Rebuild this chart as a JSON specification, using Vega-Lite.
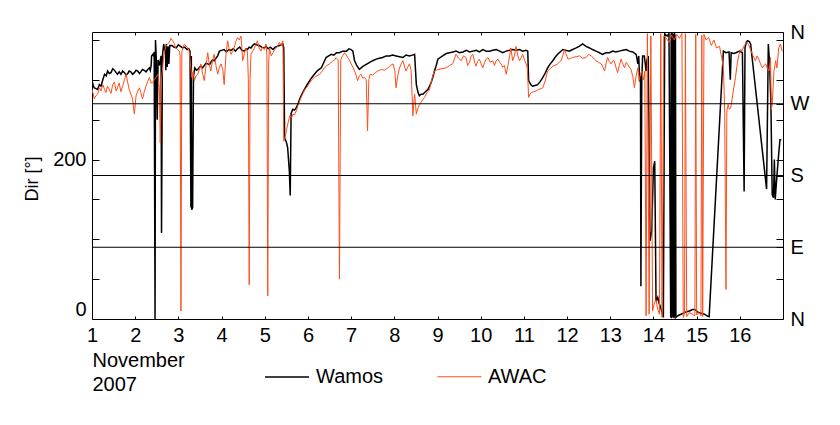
{
"$schema": "https://vega.github.io/schema/vega-lite/v6.json",
"width": 691,
"height": 287,
"autosize": "none",
"padding": {"left": 92, "top": 32, "right": 57, "bottom": 106},
"background": "white",
"config": {
  "font": "Liberation Sans",
  "view": {"stroke": "black", "strokeWidth": 1},
  "axis": {"labelFont": "Liberation Sans", "labelFontSize": 20, "labelColor": "black", "tickColor": "black", "tickWidth": 1, "domain": false, "grid": false, "titleFont": "Liberation Sans", "titleColor": "black", "titleFontWeight": "normal"},
  "legend": {"labelFont": "Liberation Sans", "labelColor": "black"}
},
"layer": [
  {
    "data": {"values": [
{"day":1.00,"dir":299,"series":"Wamos"},{"day":1.03,"dir":293,"series":"Wamos"},{"day":1.05,"dir":290,"series":"Wamos"},{"day":1.09,"dir":289,"series":"Wamos"},{"day":1.13,"dir":288,"series":"Wamos"},{"day":1.17,"dir":294,"series":"Wamos"},{"day":1.21,"dir":292,"series":"Wamos"},{"day":1.25,"dir":300,"series":"Wamos"},{"day":1.29,"dir":307,"series":"Wamos"},{"day":1.33,"dir":305,"series":"Wamos"},{"day":1.36,"dir":311,"series":"Wamos"},{"day":1.40,"dir":308,"series":"Wamos"},{"day":1.44,"dir":309,"series":"Wamos"},{"day":1.48,"dir":314,"series":"Wamos"},{"day":1.52,"dir":312,"series":"Wamos"},{"day":1.56,"dir":309,"series":"Wamos"},{"day":1.59,"dir":307,"series":"Wamos"},{"day":1.63,"dir":310,"series":"Wamos"},{"day":1.67,"dir":307,"series":"Wamos"},{"day":1.71,"dir":311,"series":"Wamos"},{"day":1.75,"dir":309,"series":"Wamos"},{"day":1.79,"dir":306,"series":"Wamos"},{"day":1.83,"dir":308,"series":"Wamos"},{"day":1.86,"dir":311,"series":"Wamos"},{"day":1.90,"dir":310,"series":"Wamos"},{"day":1.94,"dir":307,"series":"Wamos"},{"day":1.98,"dir":309,"series":"Wamos"},{"day":2.02,"dir":312,"series":"Wamos"},{"day":2.06,"dir":311,"series":"Wamos"},{"day":2.10,"dir":308,"series":"Wamos"},{"day":2.13,"dir":310,"series":"Wamos"},{"day":2.17,"dir":313,"series":"Wamos"},{"day":2.21,"dir":312,"series":"Wamos"},{"day":2.25,"dir":310,"series":"Wamos"},{"day":2.29,"dir":313,"series":"Wamos"},{"day":2.33,"dir":315,"series":"Wamos"},{"day":2.35,"dir":312,"series":"Wamos"},{"day":2.37,"dir":318,"series":"Wamos"},{"day":2.38,"dir":330,"series":"Wamos"},{"day":2.41,"dir":332,"series":"Wamos"},{"day":2.43,"dir":330,"series":"Wamos"},{"day":2.44,"dir":335,"series":"Wamos"},{"day":2.46,"dir":0,"series":"Wamos"},{"day":2.47,"dir":350,"series":"Wamos"},{"day":2.49,"dir":325,"series":"Wamos"},{"day":2.51,"dir":250,"series":"Wamos"},{"day":2.53,"dir":325,"series":"Wamos"},{"day":2.56,"dir":318,"series":"Wamos"},{"day":2.60,"dir":330,"series":"Wamos"},{"day":2.61,"dir":108,"series":"Wamos"},{"day":2.63,"dir":330,"series":"Wamos"},{"day":2.66,"dir":345,"series":"Wamos"},{"day":2.68,"dir":338,"series":"Wamos"},{"day":2.70,"dir":340,"series":"Wamos"},{"day":2.71,"dir":312,"series":"Wamos"},{"day":2.72,"dir":345,"series":"Wamos"},{"day":2.74,"dir":316,"series":"Wamos"},{"day":2.76,"dir":342,"series":"Wamos"},{"day":2.78,"dir":320,"series":"Wamos"},{"day":2.80,"dir":343,"series":"Wamos"},{"day":2.85,"dir":343,"series":"Wamos"},{"day":2.90,"dir":341,"series":"Wamos"},{"day":2.95,"dir":340,"series":"Wamos"},{"day":3.00,"dir":344,"series":"Wamos"},{"day":3.05,"dir":342,"series":"Wamos"},{"day":3.10,"dir":340,"series":"Wamos"},{"day":3.15,"dir":341,"series":"Wamos"},{"day":3.20,"dir":338,"series":"Wamos"},{"day":3.24,"dir":339,"series":"Wamos"},{"day":3.27,"dir":336,"series":"Wamos"},{"day":3.29,"dir":140,"series":"Wamos"},{"day":3.30,"dir":330,"series":"Wamos"},{"day":3.31,"dir":137,"series":"Wamos"},{"day":3.33,"dir":140,"series":"Wamos"},{"day":3.35,"dir":305,"series":"Wamos"},{"day":3.38,"dir":315,"series":"Wamos"},{"day":3.42,"dir":312,"series":"Wamos"},{"day":3.45,"dir":313,"series":"Wamos"},{"day":3.49,"dir":316,"series":"Wamos"},{"day":3.52,"dir":317,"series":"Wamos"},{"day":3.56,"dir":315,"series":"Wamos"},{"day":3.60,"dir":318,"series":"Wamos"},{"day":3.64,"dir":321,"series":"Wamos"},{"day":3.68,"dir":320,"series":"Wamos"},{"day":3.72,"dir":319,"series":"Wamos"},{"day":3.75,"dir":322,"series":"Wamos"},{"day":3.79,"dir":325,"series":"Wamos"},{"day":3.83,"dir":324,"series":"Wamos"},{"day":3.87,"dir":327,"series":"Wamos"},{"day":3.91,"dir":330,"series":"Wamos"},{"day":3.95,"dir":336,"series":"Wamos"},{"day":4.00,"dir":337,"series":"Wamos"},{"day":4.06,"dir":338,"series":"Wamos"},{"day":4.11,"dir":335,"series":"Wamos"},{"day":4.17,"dir":338,"series":"Wamos"},{"day":4.22,"dir":337,"series":"Wamos"},{"day":4.27,"dir":339,"series":"Wamos"},{"day":4.32,"dir":336,"series":"Wamos"},{"day":4.37,"dir":339,"series":"Wamos"},{"day":4.42,"dir":341,"series":"Wamos"},{"day":4.47,"dir":337,"series":"Wamos"},{"day":4.53,"dir":336,"series":"Wamos"},{"day":4.57,"dir":339,"series":"Wamos"},{"day":4.60,"dir":338,"series":"Wamos"},{"day":4.64,"dir":341,"series":"Wamos"},{"day":4.68,"dir":340,"series":"Wamos"},{"day":4.72,"dir":343,"series":"Wamos"},{"day":4.76,"dir":345,"series":"Wamos"},{"day":4.81,"dir":344,"series":"Wamos"},{"day":4.87,"dir":343,"series":"Wamos"},{"day":4.93,"dir":341,"series":"Wamos"},{"day":4.99,"dir":340,"series":"Wamos"},{"day":5.03,"dir":342,"series":"Wamos"},{"day":5.08,"dir":339,"series":"Wamos"},{"day":5.13,"dir":341,"series":"Wamos"},{"day":5.19,"dir":338,"series":"Wamos"},{"day":5.24,"dir":341,"series":"Wamos"},{"day":5.29,"dir":342,"series":"Wamos"},{"day":5.34,"dir":343,"series":"Wamos"},{"day":5.38,"dir":344,"series":"Wamos"},{"day":5.42,"dir":345,"series":"Wamos"},{"day":5.44,"dir":340,"series":"Wamos"},{"day":5.46,"dir":227,"series":"Wamos"},{"day":5.50,"dir":222,"series":"Wamos"},{"day":5.53,"dir":215,"series":"Wamos"},{"day":5.57,"dir":185,"series":"Wamos"},{"day":5.59,"dir":155,"series":"Wamos"},{"day":5.61,"dir":258,"series":"Wamos"},{"day":5.65,"dir":263,"series":"Wamos"},{"day":5.69,"dir":262,"series":"Wamos"},{"day":5.73,"dir":265,"series":"Wamos"},{"day":5.77,"dir":270,"series":"Wamos"},{"day":5.81,"dir":276,"series":"Wamos"},{"day":5.86,"dir":282,"series":"Wamos"},{"day":5.92,"dir":288,"series":"Wamos"},{"day":5.98,"dir":294,"series":"Wamos"},{"day":6.04,"dir":299,"series":"Wamos"},{"day":6.09,"dir":303,"series":"Wamos"},{"day":6.15,"dir":307,"series":"Wamos"},{"day":6.21,"dir":311,"series":"Wamos"},{"day":6.26,"dir":313,"series":"Wamos"},{"day":6.31,"dir":315,"series":"Wamos"},{"day":6.37,"dir":322,"series":"Wamos"},{"day":6.42,"dir":328,"series":"Wamos"},{"day":6.48,"dir":330,"series":"Wamos"},{"day":6.54,"dir":332,"series":"Wamos"},{"day":6.60,"dir":331,"series":"Wamos"},{"day":6.66,"dir":334,"series":"Wamos"},{"day":6.73,"dir":334,"series":"Wamos"},{"day":6.80,"dir":336,"series":"Wamos"},{"day":6.89,"dir":336,"series":"Wamos"},{"day":6.95,"dir":339,"series":"Wamos"},{"day":7.00,"dir":338,"series":"Wamos"},{"day":7.04,"dir":336,"series":"Wamos"},{"day":7.08,"dir":324,"series":"Wamos"},{"day":7.13,"dir":318,"series":"Wamos"},{"day":7.19,"dir":313,"series":"Wamos"},{"day":7.25,"dir":316,"series":"Wamos"},{"day":7.31,"dir":318,"series":"Wamos"},{"day":7.37,"dir":320,"series":"Wamos"},{"day":7.43,"dir":322,"series":"Wamos"},{"day":7.50,"dir":324,"series":"Wamos"},{"day":7.58,"dir":326,"series":"Wamos"},{"day":7.65,"dir":327,"series":"Wamos"},{"day":7.73,"dir":328,"series":"Wamos"},{"day":7.81,"dir":330,"series":"Wamos"},{"day":7.89,"dir":330,"series":"Wamos"},{"day":7.96,"dir":331,"series":"Wamos"},{"day":8.04,"dir":330,"series":"Wamos"},{"day":8.12,"dir":329,"series":"Wamos"},{"day":8.20,"dir":328,"series":"Wamos"},{"day":8.27,"dir":331,"series":"Wamos"},{"day":8.35,"dir":330,"series":"Wamos"},{"day":8.42,"dir":331,"series":"Wamos"},{"day":8.47,"dir":332,"series":"Wamos"},{"day":8.51,"dir":294,"series":"Wamos"},{"day":8.55,"dir":284,"series":"Wamos"},{"day":8.58,"dir":280,"series":"Wamos"},{"day":8.62,"dir":282,"series":"Wamos"},{"day":8.66,"dir":282,"series":"Wamos"},{"day":8.72,"dir":285,"series":"Wamos"},{"day":8.78,"dir":288,"series":"Wamos"},{"day":8.85,"dir":296,"series":"Wamos"},{"day":8.89,"dir":303,"series":"Wamos"},{"day":8.93,"dir":311,"series":"Wamos"},{"day":8.97,"dir":318,"series":"Wamos"},{"day":9.01,"dir":326,"series":"Wamos"},{"day":9.06,"dir":328,"series":"Wamos"},{"day":9.12,"dir":330,"series":"Wamos"},{"day":9.20,"dir":333,"series":"Wamos"},{"day":9.28,"dir":334,"series":"Wamos"},{"day":9.36,"dir":335,"series":"Wamos"},{"day":9.43,"dir":336,"series":"Wamos"},{"day":9.51,"dir":334,"series":"Wamos"},{"day":9.59,"dir":335,"series":"Wamos"},{"day":9.67,"dir":337,"series":"Wamos"},{"day":9.74,"dir":335,"series":"Wamos"},{"day":9.82,"dir":336,"series":"Wamos"},{"day":9.90,"dir":337,"series":"Wamos"},{"day":9.97,"dir":335,"series":"Wamos"},{"day":10.05,"dir":338,"series":"Wamos"},{"day":10.13,"dir":336,"series":"Wamos"},{"day":10.20,"dir":336,"series":"Wamos"},{"day":10.28,"dir":337,"series":"Wamos"},{"day":10.36,"dir":338,"series":"Wamos"},{"day":10.44,"dir":336,"series":"Wamos"},{"day":10.51,"dir":334,"series":"Wamos"},{"day":10.59,"dir":336,"series":"Wamos"},{"day":10.67,"dir":337,"series":"Wamos"},{"day":10.74,"dir":338,"series":"Wamos"},{"day":10.82,"dir":337,"series":"Wamos"},{"day":10.90,"dir":338,"series":"Wamos"},{"day":10.97,"dir":336,"series":"Wamos"},{"day":11.05,"dir":337,"series":"Wamos"},{"day":11.09,"dir":336,"series":"Wamos"},{"day":11.11,"dir":299,"series":"Wamos"},{"day":11.16,"dir":294,"series":"Wamos"},{"day":11.20,"dir":292,"series":"Wamos"},{"day":11.26,"dir":293,"series":"Wamos"},{"day":11.32,"dir":294,"series":"Wamos"},{"day":11.38,"dir":298,"series":"Wamos"},{"day":11.44,"dir":303,"series":"Wamos"},{"day":11.50,"dir":309,"series":"Wamos"},{"day":11.55,"dir":315,"series":"Wamos"},{"day":11.61,"dir":320,"series":"Wamos"},{"day":11.67,"dir":324,"series":"Wamos"},{"day":11.72,"dir":328,"series":"Wamos"},{"day":11.78,"dir":332,"series":"Wamos"},{"day":11.84,"dir":335,"series":"Wamos"},{"day":11.90,"dir":338,"series":"Wamos"},{"day":11.97,"dir":337,"series":"Wamos"},{"day":12.05,"dir":336,"series":"Wamos"},{"day":12.13,"dir":338,"series":"Wamos"},{"day":12.21,"dir":340,"series":"Wamos"},{"day":12.28,"dir":342,"series":"Wamos"},{"day":12.36,"dir":345,"series":"Wamos"},{"day":12.44,"dir":342,"series":"Wamos"},{"day":12.52,"dir":340,"series":"Wamos"},{"day":12.59,"dir":338,"series":"Wamos"},{"day":12.67,"dir":336,"series":"Wamos"},{"day":12.75,"dir":334,"series":"Wamos"},{"day":12.82,"dir":332,"series":"Wamos"},{"day":12.90,"dir":334,"series":"Wamos"},{"day":12.98,"dir":334,"series":"Wamos"},{"day":13.06,"dir":336,"series":"Wamos"},{"day":13.13,"dir":335,"series":"Wamos"},{"day":13.21,"dir":336,"series":"Wamos"},{"day":13.29,"dir":337,"series":"Wamos"},{"day":13.37,"dir":338,"series":"Wamos"},{"day":13.44,"dir":336,"series":"Wamos"},{"day":13.52,"dir":335,"series":"Wamos"},{"day":13.60,"dir":332,"series":"Wamos"},{"day":13.64,"dir":320,"series":"Wamos"},{"day":13.66,"dir":330,"series":"Wamos"},{"day":13.68,"dir":298,"series":"Wamos"},{"day":13.70,"dir":305,"series":"Wamos"},{"day":13.71,"dir":41,"series":"Wamos"},{"day":13.73,"dir":300,"series":"Wamos"},{"day":13.75,"dir":330,"series":"Wamos"},{"day":13.79,"dir":330,"series":"Wamos"},{"day":13.83,"dir":311,"series":"Wamos"},{"day":13.85,"dir":325,"series":"Wamos"},{"day":13.88,"dir":330,"series":"Wamos"},{"day":13.92,"dir":98,"series":"Wamos"},{"day":13.96,"dir":110,"series":"Wamos"},{"day":14.00,"dir":190,"series":"Wamos"},{"day":14.03,"dir":198,"series":"Wamos"},{"day":14.06,"dir":22,"series":"Wamos"},{"day":14.10,"dir":27,"series":"Wamos"},{"day":14.13,"dir":20,"series":"Wamos"},{"day":14.17,"dir":14,"series":"Wamos"},{"day":14.21,"dir":6,"series":"Wamos"},{"day":14.23,"dir":2,"series":"Wamos"},{"day":14.26,"dir":358,"series":"Wamos"},{"day":14.29,"dir":356,"series":"Wamos"},{"day":14.32,"dir":355,"series":"Wamos"},{"day":14.36,"dir":358,"series":"Wamos"},{"day":14.40,"dir":2,"series":"Wamos"},{"day":14.41,"dir":358,"series":"Wamos"},{"day":14.42,"dir":1,"series":"Wamos"},{"day":14.43,"dir":359,"series":"Wamos"},{"day":14.44,"dir":3,"series":"Wamos"},{"day":14.45,"dir":357,"series":"Wamos"},{"day":14.46,"dir":2,"series":"Wamos"},{"day":14.47,"dir":358,"series":"Wamos"},{"day":14.48,"dir":1,"series":"Wamos"},{"day":14.49,"dir":359,"series":"Wamos"},{"day":14.50,"dir":4,"series":"Wamos"},{"day":14.51,"dir":356,"series":"Wamos"},{"day":14.52,"dir":2,"series":"Wamos"},{"day":14.56,"dir":4,"series":"Wamos"},{"day":14.60,"dir":5,"series":"Wamos"},{"day":14.64,"dir":6,"series":"Wamos"},{"day":14.68,"dir":7,"series":"Wamos"},{"day":14.71,"dir":8,"series":"Wamos"},{"day":14.77,"dir":9,"series":"Wamos"},{"day":14.83,"dir":10,"series":"Wamos"},{"day":14.87,"dir":11,"series":"Wamos"},{"day":14.91,"dir":12,"series":"Wamos"},{"day":14.95,"dir":12,"series":"Wamos"},{"day":14.98,"dir":11,"series":"Wamos"},{"day":15.02,"dir":9,"series":"Wamos"},{"day":15.06,"dir":8,"series":"Wamos"},{"day":15.12,"dir":7,"series":"Wamos"},{"day":15.18,"dir":6,"series":"Wamos"},{"day":15.24,"dir":4,"series":"Wamos"},{"day":15.29,"dir":3,"series":"Wamos"},{"day":15.62,"dir":336,"series":"Wamos"},{"day":15.68,"dir":334,"series":"Wamos"},{"day":15.75,"dir":335,"series":"Wamos"},{"day":15.78,"dir":300,"series":"Wamos"},{"day":15.80,"dir":334,"series":"Wamos"},{"day":15.86,"dir":333,"series":"Wamos"},{"day":15.91,"dir":334,"series":"Wamos"},{"day":15.99,"dir":336,"series":"Wamos"},{"day":16.06,"dir":334,"series":"Wamos"},{"day":16.10,"dir":160,"series":"Wamos"},{"day":16.12,"dir":340,"series":"Wamos"},{"day":16.15,"dir":347,"series":"Wamos"},{"day":16.18,"dir":349,"series":"Wamos"},{"day":16.22,"dir":348,"series":"Wamos"},{"day":16.25,"dir":345,"series":"Wamos"},{"day":16.62,"dir":163,"series":"Wamos"},{"day":16.66,"dir":345,"series":"Wamos"},{"day":16.69,"dir":320,"series":"Wamos"},{"day":16.72,"dir":270,"series":"Wamos"},{"day":16.75,"dir":156,"series":"Wamos"},{"day":16.78,"dir":152,"series":"Wamos"},{"day":16.80,"dir":200,"series":"Wamos"},{"day":16.82,"dir":150,"series":"Wamos"},{"day":16.86,"dir":180,"series":"Wamos"},{"day":16.90,"dir":207,"series":"Wamos"},{"day":16.93,"dir":225,"series":"Wamos"},{"day":16.96,"dir":225,"series":"Wamos"},
{"day":1.00,"dir":288,"series":"AWAC"},{"day":1.03,"dir":282,"series":"AWAC"},{"day":1.05,"dir":276,"series":"AWAC"},{"day":1.09,"dir":280,"series":"AWAC"},{"day":1.13,"dir":282,"series":"AWAC"},{"day":1.17,"dir":290,"series":"AWAC"},{"day":1.21,"dir":286,"series":"AWAC"},{"day":1.25,"dir":294,"series":"AWAC"},{"day":1.29,"dir":288,"series":"AWAC"},{"day":1.32,"dir":284,"series":"AWAC"},{"day":1.36,"dir":292,"series":"AWAC"},{"day":1.40,"dir":288,"series":"AWAC"},{"day":1.44,"dir":283,"series":"AWAC"},{"day":1.48,"dir":294,"series":"AWAC"},{"day":1.52,"dir":297,"series":"AWAC"},{"day":1.56,"dir":286,"series":"AWAC"},{"day":1.59,"dir":290,"series":"AWAC"},{"day":1.63,"dir":296,"series":"AWAC"},{"day":1.67,"dir":285,"series":"AWAC"},{"day":1.71,"dir":292,"series":"AWAC"},{"day":1.75,"dir":300,"series":"AWAC"},{"day":1.79,"dir":307,"series":"AWAC"},{"day":1.83,"dir":296,"series":"AWAC"},{"day":1.86,"dir":288,"series":"AWAC"},{"day":1.90,"dir":282,"series":"AWAC"},{"day":1.94,"dir":276,"series":"AWAC"},{"day":1.98,"dir":257,"series":"AWAC"},{"day":2.02,"dir":280,"series":"AWAC"},{"day":2.06,"dir":286,"series":"AWAC"},{"day":2.10,"dir":290,"series":"AWAC"},{"day":2.13,"dir":284,"series":"AWAC"},{"day":2.17,"dir":276,"series":"AWAC"},{"day":2.21,"dir":285,"series":"AWAC"},{"day":2.25,"dir":292,"series":"AWAC"},{"day":2.29,"dir":298,"series":"AWAC"},{"day":2.33,"dir":303,"series":"AWAC"},{"day":2.37,"dir":296,"series":"AWAC"},{"day":2.40,"dir":296,"series":"AWAC"},{"day":2.44,"dir":300,"series":"AWAC"},{"day":2.48,"dir":303,"series":"AWAC"},{"day":2.53,"dir":307,"series":"AWAC"},{"day":2.56,"dir":290,"series":"AWAC"},{"day":2.58,"dir":221,"series":"AWAC"},{"day":2.61,"dir":300,"series":"AWAC"},{"day":2.66,"dir":330,"series":"AWAC"},{"day":2.71,"dir":342,"series":"AWAC"},{"day":2.75,"dir":345,"series":"AWAC"},{"day":2.79,"dir":347,"series":"AWAC"},{"day":2.83,"dir":352,"series":"AWAC"},{"day":2.87,"dir":349,"series":"AWAC"},{"day":2.91,"dir":345,"series":"AWAC"},{"day":2.94,"dir":340,"series":"AWAC"},{"day":2.98,"dir":338,"series":"AWAC"},{"day":3.02,"dir":336,"series":"AWAC"},{"day":3.04,"dir":330,"series":"AWAC"},{"day":3.06,"dir":10,"series":"AWAC"},{"day":3.08,"dir":335,"series":"AWAC"},{"day":3.10,"dir":340,"series":"AWAC"},{"day":3.14,"dir":345,"series":"AWAC"},{"day":3.18,"dir":342,"series":"AWAC"},{"day":3.22,"dir":340,"series":"AWAC"},{"day":3.25,"dir":336,"series":"AWAC"},{"day":3.28,"dir":320,"series":"AWAC"},{"day":3.31,"dir":303,"series":"AWAC"},{"day":3.34,"dir":310,"series":"AWAC"},{"day":3.37,"dir":299,"series":"AWAC"},{"day":3.41,"dir":305,"series":"AWAC"},{"day":3.45,"dir":307,"series":"AWAC"},{"day":3.49,"dir":314,"series":"AWAC"},{"day":3.52,"dir":320,"series":"AWAC"},{"day":3.56,"dir":308,"series":"AWAC"},{"day":3.60,"dir":299,"series":"AWAC"},{"day":3.64,"dir":318,"series":"AWAC"},{"day":3.68,"dir":334,"series":"AWAC"},{"day":3.72,"dir":318,"series":"AWAC"},{"day":3.75,"dir":311,"series":"AWAC"},{"day":3.79,"dir":324,"series":"AWAC"},{"day":3.83,"dir":332,"series":"AWAC"},{"day":3.87,"dir":318,"series":"AWAC"},{"day":3.91,"dir":307,"series":"AWAC"},{"day":3.95,"dir":316,"series":"AWAC"},{"day":3.99,"dir":320,"series":"AWAC"},{"day":4.03,"dir":312,"series":"AWAC"},{"day":4.06,"dir":294,"series":"AWAC"},{"day":4.10,"dir":330,"series":"AWAC"},{"day":4.14,"dir":349,"series":"AWAC"},{"day":4.18,"dir":338,"series":"AWAC"},{"day":4.22,"dir":332,"series":"AWAC"},{"day":4.26,"dir":336,"series":"AWAC"},{"day":4.29,"dir":340,"series":"AWAC"},{"day":4.33,"dir":348,"series":"AWAC"},{"day":4.37,"dir":353,"series":"AWAC"},{"day":4.41,"dir":350,"series":"AWAC"},{"day":4.45,"dir":355,"series":"AWAC"},{"day":4.49,"dir":324,"series":"AWAC"},{"day":4.53,"dir":333,"series":"AWAC"},{"day":4.56,"dir":340,"series":"AWAC"},{"day":4.60,"dir":335,"series":"AWAC"},{"day":4.62,"dir":300,"series":"AWAC"},{"day":4.64,"dir":43,"series":"AWAC"},{"day":4.66,"dir":300,"series":"AWAC"},{"day":4.68,"dir":332,"series":"AWAC"},{"day":4.72,"dir":336,"series":"AWAC"},{"day":4.76,"dir":340,"series":"AWAC"},{"day":4.80,"dir":345,"series":"AWAC"},{"day":4.83,"dir":349,"series":"AWAC"},{"day":4.87,"dir":340,"series":"AWAC"},{"day":4.91,"dir":336,"series":"AWAC"},{"day":4.95,"dir":341,"series":"AWAC"},{"day":4.99,"dir":338,"series":"AWAC"},{"day":5.03,"dir":345,"series":"AWAC"},{"day":5.05,"dir":330,"series":"AWAC"},{"day":5.07,"dir":29,"series":"AWAC"},{"day":5.09,"dir":320,"series":"AWAC"},{"day":5.11,"dir":340,"series":"AWAC"},{"day":5.15,"dir":330,"series":"AWAC"},{"day":5.19,"dir":334,"series":"AWAC"},{"day":5.23,"dir":338,"series":"AWAC"},{"day":5.27,"dir":340,"series":"AWAC"},{"day":5.31,"dir":344,"series":"AWAC"},{"day":5.34,"dir":347,"series":"AWAC"},{"day":5.38,"dir":343,"series":"AWAC"},{"day":5.42,"dir":349,"series":"AWAC"},{"day":5.44,"dir":223,"series":"AWAC"},{"day":5.47,"dir":228,"series":"AWAC"},{"day":5.50,"dir":236,"series":"AWAC"},{"day":5.54,"dir":246,"series":"AWAC"},{"day":5.58,"dir":255,"series":"AWAC"},{"day":5.62,"dir":252,"series":"AWAC"},{"day":5.65,"dir":257,"series":"AWAC"},{"day":5.69,"dir":256,"series":"AWAC"},{"day":5.73,"dir":261,"series":"AWAC"},{"day":5.77,"dir":268,"series":"AWAC"},{"day":5.81,"dir":274,"series":"AWAC"},{"day":5.85,"dir":279,"series":"AWAC"},{"day":5.89,"dir":284,"series":"AWAC"},{"day":5.93,"dir":288,"series":"AWAC"},{"day":5.98,"dir":291,"series":"AWAC"},{"day":6.04,"dir":296,"series":"AWAC"},{"day":6.09,"dir":300,"series":"AWAC"},{"day":6.15,"dir":303,"series":"AWAC"},{"day":6.21,"dir":305,"series":"AWAC"},{"day":6.27,"dir":307,"series":"AWAC"},{"day":6.33,"dir":311,"series":"AWAC"},{"day":6.38,"dir":315,"series":"AWAC"},{"day":6.44,"dir":318,"series":"AWAC"},{"day":6.50,"dir":320,"series":"AWAC"},{"day":6.56,"dir":323,"series":"AWAC"},{"day":6.62,"dir":325,"series":"AWAC"},{"day":6.65,"dir":328,"series":"AWAC"},{"day":6.70,"dir":325,"series":"AWAC"},{"day":6.73,"dir":50,"series":"AWAC"},{"day":6.76,"dir":325,"series":"AWAC"},{"day":6.80,"dir":330,"series":"AWAC"},{"day":6.85,"dir":334,"series":"AWAC"},{"day":6.89,"dir":331,"series":"AWAC"},{"day":6.92,"dir":328,"series":"AWAC"},{"day":6.96,"dir":325,"series":"AWAC"},{"day":7.00,"dir":320,"series":"AWAC"},{"day":7.04,"dir":316,"series":"AWAC"},{"day":7.08,"dir":311,"series":"AWAC"},{"day":7.12,"dir":305,"series":"AWAC"},{"day":7.15,"dir":299,"series":"AWAC"},{"day":7.19,"dir":305,"series":"AWAC"},{"day":7.23,"dir":307,"series":"AWAC"},{"day":7.27,"dir":302,"series":"AWAC"},{"day":7.31,"dir":303,"series":"AWAC"},{"day":7.35,"dir":300,"series":"AWAC"},{"day":7.38,"dir":236,"series":"AWAC"},{"day":7.41,"dir":300,"series":"AWAC"},{"day":7.44,"dir":307,"series":"AWAC"},{"day":7.50,"dir":306,"series":"AWAC"},{"day":7.56,"dir":309,"series":"AWAC"},{"day":7.62,"dir":311,"series":"AWAC"},{"day":7.70,"dir":313,"series":"AWAC"},{"day":7.77,"dir":312,"series":"AWAC"},{"day":7.85,"dir":315,"series":"AWAC"},{"day":7.91,"dir":318,"series":"AWAC"},{"day":7.97,"dir":320,"series":"AWAC"},{"day":8.01,"dir":312,"series":"AWAC"},{"day":8.04,"dir":290,"series":"AWAC"},{"day":8.08,"dir":305,"series":"AWAC"},{"day":8.12,"dir":315,"series":"AWAC"},{"day":8.16,"dir":320,"series":"AWAC"},{"day":8.20,"dir":324,"series":"AWAC"},{"day":8.24,"dir":316,"series":"AWAC"},{"day":8.27,"dir":311,"series":"AWAC"},{"day":8.31,"dir":316,"series":"AWAC"},{"day":8.35,"dir":320,"series":"AWAC"},{"day":8.39,"dir":312,"series":"AWAC"},{"day":8.43,"dir":255,"series":"AWAC"},{"day":8.45,"dir":270,"series":"AWAC"},{"day":8.47,"dir":282,"series":"AWAC"},{"day":8.49,"dir":270,"series":"AWAC"},{"day":8.51,"dir":257,"series":"AWAC"},{"day":8.55,"dir":265,"series":"AWAC"},{"day":8.58,"dir":269,"series":"AWAC"},{"day":8.62,"dir":272,"series":"AWAC"},{"day":8.66,"dir":275,"series":"AWAC"},{"day":8.70,"dir":278,"series":"AWAC"},{"day":8.76,"dir":284,"series":"AWAC"},{"day":8.81,"dir":287,"series":"AWAC"},{"day":8.85,"dir":296,"series":"AWAC"},{"day":8.89,"dir":305,"series":"AWAC"},{"day":8.93,"dir":311,"series":"AWAC"},{"day":8.97,"dir":312,"series":"AWAC"},{"day":9.01,"dir":313,"series":"AWAC"},{"day":9.10,"dir":314,"series":"AWAC"},{"day":9.20,"dir":315,"series":"AWAC"},{"day":9.28,"dir":318,"series":"AWAC"},{"day":9.35,"dir":320,"series":"AWAC"},{"day":9.39,"dir":326,"series":"AWAC"},{"day":9.43,"dir":332,"series":"AWAC"},{"day":9.49,"dir":327,"series":"AWAC"},{"day":9.55,"dir":324,"series":"AWAC"},{"day":9.60,"dir":330,"series":"AWAC"},{"day":9.66,"dir":328,"series":"AWAC"},{"day":9.70,"dir":318,"series":"AWAC"},{"day":9.74,"dir":322,"series":"AWAC"},{"day":9.78,"dir":330,"series":"AWAC"},{"day":9.82,"dir":332,"series":"AWAC"},{"day":9.86,"dir":322,"series":"AWAC"},{"day":9.89,"dir":317,"series":"AWAC"},{"day":9.93,"dir":323,"series":"AWAC"},{"day":9.97,"dir":326,"series":"AWAC"},{"day":10.01,"dir":320,"series":"AWAC"},{"day":10.05,"dir":315,"series":"AWAC"},{"day":10.09,"dir":322,"series":"AWAC"},{"day":10.13,"dir":326,"series":"AWAC"},{"day":10.17,"dir":328,"series":"AWAC"},{"day":10.22,"dir":322,"series":"AWAC"},{"day":10.28,"dir":324,"series":"AWAC"},{"day":10.32,"dir":318,"series":"AWAC"},{"day":10.36,"dir":324,"series":"AWAC"},{"day":10.40,"dir":326,"series":"AWAC"},{"day":10.44,"dir":322,"series":"AWAC"},{"day":10.47,"dir":320,"series":"AWAC"},{"day":10.51,"dir":316,"series":"AWAC"},{"day":10.55,"dir":318,"series":"AWAC"},{"day":10.59,"dir":307,"series":"AWAC"},{"day":10.63,"dir":318,"series":"AWAC"},{"day":10.67,"dir":330,"series":"AWAC"},{"day":10.70,"dir":340,"series":"AWAC"},{"day":10.74,"dir":324,"series":"AWAC"},{"day":10.78,"dir":330,"series":"AWAC"},{"day":10.82,"dir":342,"series":"AWAC"},{"day":10.86,"dir":330,"series":"AWAC"},{"day":10.90,"dir":324,"series":"AWAC"},{"day":10.94,"dir":328,"series":"AWAC"},{"day":10.97,"dir":332,"series":"AWAC"},{"day":11.01,"dir":326,"series":"AWAC"},{"day":11.05,"dir":320,"series":"AWAC"},{"day":11.08,"dir":315,"series":"AWAC"},{"day":11.11,"dir":278,"series":"AWAC"},{"day":11.14,"dir":282,"series":"AWAC"},{"day":11.17,"dir":284,"series":"AWAC"},{"day":11.22,"dir":285,"series":"AWAC"},{"day":11.28,"dir":286,"series":"AWAC"},{"day":11.34,"dir":288,"series":"AWAC"},{"day":11.40,"dir":289,"series":"AWAC"},{"day":11.44,"dir":290,"series":"AWAC"},{"day":11.50,"dir":300,"series":"AWAC"},{"day":11.55,"dir":311,"series":"AWAC"},{"day":11.61,"dir":314,"series":"AWAC"},{"day":11.67,"dir":317,"series":"AWAC"},{"day":11.72,"dir":318,"series":"AWAC"},{"day":11.78,"dir":320,"series":"AWAC"},{"day":11.82,"dir":322,"series":"AWAC"},{"day":11.86,"dir":324,"series":"AWAC"},{"day":11.90,"dir":330,"series":"AWAC"},{"day":11.94,"dir":338,"series":"AWAC"},{"day":11.98,"dir":332,"series":"AWAC"},{"day":12.02,"dir":326,"series":"AWAC"},{"day":12.08,"dir":327,"series":"AWAC"},{"day":12.13,"dir":328,"series":"AWAC"},{"day":12.21,"dir":329,"series":"AWAC"},{"day":12.29,"dir":330,"series":"AWAC"},{"day":12.36,"dir":327,"series":"AWAC"},{"day":12.44,"dir":328,"series":"AWAC"},{"day":12.50,"dir":332,"series":"AWAC"},{"day":12.56,"dir":330,"series":"AWAC"},{"day":12.62,"dir":327,"series":"AWAC"},{"day":12.67,"dir":324,"series":"AWAC"},{"day":12.73,"dir":322,"series":"AWAC"},{"day":12.79,"dir":320,"series":"AWAC"},{"day":12.83,"dir":316,"series":"AWAC"},{"day":12.87,"dir":311,"series":"AWAC"},{"day":12.91,"dir":322,"series":"AWAC"},{"day":12.94,"dir":328,"series":"AWAC"},{"day":12.98,"dir":323,"series":"AWAC"},{"day":13.02,"dir":320,"series":"AWAC"},{"day":13.06,"dir":324,"series":"AWAC"},{"day":13.09,"dir":324,"series":"AWAC"},{"day":13.13,"dir":316,"series":"AWAC"},{"day":13.17,"dir":309,"series":"AWAC"},{"day":13.21,"dir":318,"series":"AWAC"},{"day":13.25,"dir":326,"series":"AWAC"},{"day":13.29,"dir":320,"series":"AWAC"},{"day":13.33,"dir":315,"series":"AWAC"},{"day":13.37,"dir":322,"series":"AWAC"},{"day":13.40,"dir":320,"series":"AWAC"},{"day":13.44,"dir":316,"series":"AWAC"},{"day":13.48,"dir":313,"series":"AWAC"},{"day":13.52,"dir":305,"series":"AWAC"},{"day":13.56,"dir":290,"series":"AWAC"},{"day":13.60,"dir":305,"series":"AWAC"},{"day":13.64,"dir":315,"series":"AWAC"},{"day":13.67,"dir":299,"series":"AWAC"},{"day":13.70,"dir":308,"series":"AWAC"},{"day":13.73,"dir":311,"series":"AWAC"},{"day":13.77,"dir":300,"series":"AWAC"},{"day":13.80,"dir":311,"series":"AWAC"},{"day":13.83,"dir":4,"series":"AWAC"},{"day":13.86,"dir":358,"series":"AWAC"},{"day":13.90,"dir":6,"series":"AWAC"},{"day":13.94,"dir":355,"series":"AWAC"},{"day":13.98,"dir":10,"series":"AWAC"},{"day":14.02,"dir":20,"series":"AWAC"},{"day":14.06,"dir":24,"series":"AWAC"},{"day":14.10,"dir":12,"series":"AWAC"},{"day":14.14,"dir":6,"series":"AWAC"},{"day":14.17,"dir":358,"series":"AWAC"},{"day":14.20,"dir":2,"series":"AWAC"},{"day":14.24,"dir":355,"series":"AWAC"},{"day":14.30,"dir":352,"series":"AWAC"},{"day":14.36,"dir":347,"series":"AWAC"},{"day":14.42,"dir":356,"series":"AWAC"},{"day":14.48,"dir":350,"series":"AWAC"},{"day":14.54,"dir":357,"series":"AWAC"},{"day":14.60,"dir":352,"series":"AWAC"},{"day":14.66,"dir":358,"series":"AWAC"},{"day":14.69,"dir":2,"series":"AWAC"},{"day":14.72,"dir":6,"series":"AWAC"},{"day":14.74,"dir":358,"series":"AWAC"},{"day":14.77,"dir":3,"series":"AWAC"},{"day":14.83,"dir":8,"series":"AWAC"},{"day":14.90,"dir":6,"series":"AWAC"},{"day":14.96,"dir":4,"series":"AWAC"},{"day":14.98,"dir":357,"series":"AWAC"},{"day":15.00,"dir":5,"series":"AWAC"},{"day":15.05,"dir":8,"series":"AWAC"},{"day":15.10,"dir":4,"series":"AWAC"},{"day":15.12,"dir":356,"series":"AWAC"},{"day":15.14,"dir":3,"series":"AWAC"},{"day":15.17,"dir":357,"series":"AWAC"},{"day":15.22,"dir":350,"series":"AWAC"},{"day":15.28,"dir":353,"series":"AWAC"},{"day":15.34,"dir":343,"series":"AWAC"},{"day":15.40,"dir":350,"series":"AWAC"},{"day":15.46,"dir":340,"series":"AWAC"},{"day":15.53,"dir":342,"series":"AWAC"},{"day":15.58,"dir":328,"series":"AWAC"},{"day":15.62,"dir":315,"series":"AWAC"},{"day":15.65,"dir":261,"series":"AWAC"},{"day":15.68,"dir":37,"series":"AWAC"},{"day":15.70,"dir":261,"series":"AWAC"},{"day":15.73,"dir":269,"series":"AWAC"},{"day":15.76,"dir":263,"series":"AWAC"},{"day":15.79,"dir":265,"series":"AWAC"},{"day":15.82,"dir":275,"series":"AWAC"},{"day":15.86,"dir":290,"series":"AWAC"},{"day":15.90,"dir":303,"series":"AWAC"},{"day":15.94,"dir":320,"series":"AWAC"},{"day":15.98,"dir":332,"series":"AWAC"},{"day":16.02,"dir":338,"series":"AWAC"},{"day":16.05,"dir":336,"series":"AWAC"},{"day":16.09,"dir":342,"series":"AWAC"},{"day":16.13,"dir":345,"series":"AWAC"},{"day":16.17,"dir":347,"series":"AWAC"},{"day":16.21,"dir":343,"series":"AWAC"},{"day":16.25,"dir":338,"series":"AWAC"},{"day":16.29,"dir":332,"series":"AWAC"},{"day":16.33,"dir":328,"series":"AWAC"},{"day":16.36,"dir":324,"series":"AWAC"},{"day":16.40,"dir":330,"series":"AWAC"},{"day":16.44,"dir":326,"series":"AWAC"},{"day":16.48,"dir":320,"series":"AWAC"},{"day":16.52,"dir":315,"series":"AWAC"},{"day":16.56,"dir":318,"series":"AWAC"},{"day":16.60,"dir":320,"series":"AWAC"},{"day":16.64,"dir":314,"series":"AWAC"},{"day":16.68,"dir":311,"series":"AWAC"},{"day":16.71,"dir":328,"series":"AWAC"},{"day":16.73,"dir":263,"series":"AWAC"},{"day":16.75,"dir":269,"series":"AWAC"},{"day":16.79,"dir":311,"series":"AWAC"},{"day":16.83,"dir":324,"series":"AWAC"},{"day":16.86,"dir":315,"series":"AWAC"},{"day":16.90,"dir":340,"series":"AWAC"},{"day":16.94,"dir":345,"series":"AWAC"},{"day":16.98,"dir":336,"series":"AWAC"}
    ]},
    "mark": {"type": "line", "clip": true},
    "encoding": {
      "x": {"field": "day", "type": "quantitative", "scale": {"domain": [1, 17], "nice": false, "zero": false},
        "axis": {"orient": "bottom", "values": [1,2,3,4,5,6,7,8,9,10,11,12,13,14,15,16], "format": "d", "tickSize": -3, "labelPadding": 9, "labelFlush": false, "labelAngle": 0,
          "title": ["November", "2007"], "titleFontSize": 20, "titleAlign": "left", "titleAnchor": "start", "titleX": 0, "titleY": 47.4, "titleBaseline": "alphabetic", "titleLineHeight": 24.5}},
      "y": {"field": "dir", "type": "quantitative", "scale": {"domain": [0, 360], "nice": false, "zero": false},
        "axis": {"orient": "left", "values": [0,50,100,150,200,250,300,350], "labelExpr": "datum.value == 0 || datum.value == 200 ? datum.label : ''", "tickSize": -7, "labelPadding": 13, "labelFlush": true,
          "title": "Dir [°]", "titleFontSize": 18, "titleX": -60, "titleY": 146.5, "titleAngle": 270, "titleAlign": "center", "titleBaseline": "middle"}},
      "color": {"field": "series", "type": "nominal", "scale": {"domain": ["Wamos", "AWAC"], "range": ["#000000", "#ff4d1a"]},
        "legend": {"title": null, "orient": "none", "legendX": 172, "legendY": 322, "direction": "horizontal", "symbolType": "stroke", "symbolSize": 1936, "symbolStrokeWidth": 1.5, "labelFontSize": 20, "labelOffset": 6, "columnPadding": 51, "padding": 0}},
      "strokeWidth": {"field": "series", "type": "nominal", "scale": {"domain": ["Wamos", "AWAC"], "range": [1.5, 1]}, "legend": null}
    }
  },
  {
    "data": {"values": [{"ref": 90}, {"ref": 180}, {"ref": 270}]},
    "mark": {"type": "rule", "color": "black", "strokeWidth": 1},
    "encoding": {
      "y": {"field": "ref", "type": "quantitative",
        "axis": {"orient": "right", "values": [0,50,90,100,150,180,200,250,270,300,350,360], "labelExpr": "datum.value == 0 || datum.value == 360 ? 'N' : datum.value == 90 ? 'E' : datum.value == 180 ? 'S' : datum.value == 270 ? 'W' : ''", "tickSize": -7, "labelPadding": 14, "labelFlush": false, "labelBaseline": "middle", "title": null}},
      "x": {"datum": 1, "type": "quantitative", "axis": {"orient": "top", "values": [2,3,4,5,6,7,8,9,10,11,12,13,14,15,16], "tickSize": -3, "labels": false, "title": null}},
      "x2": {"datum": 17}
    }
  }
],
"resolve": {"axis": {"x": "independent", "y": "independent"}}
}
